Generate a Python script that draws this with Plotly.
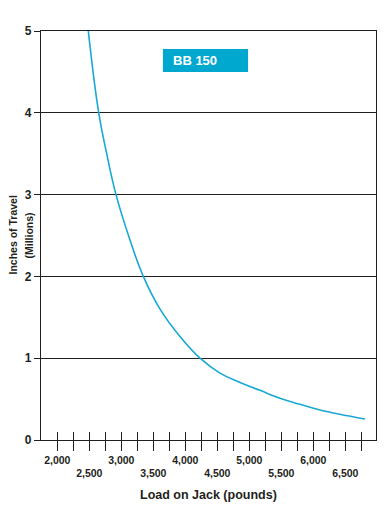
import plotly.graph_objects as go

# Data
loads = [2484, 2647, 2772, 2917, 3125, 3344, 3605, 3917, 4230, 4542, 4855, 5167, 5480, 5792, 6105, 6808]
travel = [5.0, 4.0, 3.5, 3.0, 2.47, 2.0, 1.6, 1.265, 1.0, 0.818, 0.703, 0.607, 0.51, 0.436, 0.367, 0.257]

minor_ticks = list(range(2000, 6751, 250))
label_rows = {v: (f"{v:,}" if v % 1000 == 0 else f"<br>{v:,}") for v in range(2000, 6501, 500)}
tick_text = [label_rows.get(v, "") for v in minor_ticks]
y_ticks = [0, 1, 2, 3, 4, 5]

FONT = "Liberation Sans, Arial, sans-serif"
INK = "#231f20"
CYAN_LINE = "#19a8d4"
CYAN_BOX = "#00a7cf"
X_RANGE = [1745, 6980]

fig = go.Figure()
fig.add_trace(go.Scatter(
    x=loads, y=travel, mode="lines",
    line=dict(color=CYAN_LINE, width=1.6, shape="spline", smoothing=1.2),
    showlegend=False, hoverinfo="skip",
))
fig.add_trace(go.Scatter(x=[None], y=[None], xaxis="x2", showlegend=False, hoverinfo="skip"))

fig.update_layout(
    width=392, height=513,
    margin=dict(l=41, r=16, t=31, b=73),
    paper_bgcolor="white", plot_bgcolor="white",
    font=dict(family=FONT, color=INK),
    xaxis=dict(
        range=X_RANGE, tickmode="array", tickvals=minor_ticks, ticktext=tick_text,
        tickangle=0, automargin=False,
        ticks="outside", ticklen=10, tickwidth=1.2, tickcolor=INK,
        showgrid=False, zeroline=False,
        showline=True, linecolor=INK, linewidth=1.3, mirror=True,
        tickfont=dict(family=FONT, size=10.5, weight="bold", color=INK),
    ),
    xaxis2=dict(
        range=X_RANGE, overlaying="x", anchor="y", side="bottom",
        tickmode="array", tickvals=minor_ticks, showticklabels=False,
        ticks="inside", ticklen=8, tickwidth=1.2, tickcolor=INK,
        showgrid=False, zeroline=False, showline=False, automargin=False,
    ),
    yaxis=dict(
        range=[0, 5], tickmode="array", tickvals=y_ticks, automargin=False,
        ticks="outside", ticklen=6, tickwidth=1.2, tickcolor=INK,
        showgrid=True, gridcolor=INK, gridwidth=1.2, zeroline=False,
        showline=True, linecolor=INK, linewidth=1.3, mirror=True,
        tickfont=dict(family=FONT, size=12, weight="bold", color=INK),
    ),
    shapes=[dict(
        type="rect", xref="paper", yref="paper",
        x0=0.364, x1=0.618, y0=0.900, y1=0.956,
        fillcolor=CYAN_BOX, line=dict(width=0), layer="above",
    )],
    annotations=[
        dict(text="BB 150", xref="paper", yref="paper", x=0.388, y=0.928,
             xanchor="left", yanchor="middle", showarrow=False,
             font=dict(family=FONT, size=13, weight="bold", color="white")),
        dict(text="Inches of Travel", xref="paper", yref="paper",
             x=0, y=0.5, xshift=-29, xanchor="center", yanchor="middle",
             textangle=-90, showarrow=False,
             font=dict(family=FONT, size=10.5, weight="bold", color=INK)),
        dict(text="(Millions)", xref="paper", yref="paper",
             x=0, y=0.5, xshift=-13, xanchor="center", yanchor="middle",
             textangle=-90, showarrow=False,
             font=dict(family=FONT, size=10.5, weight="bold", color=INK)),
        dict(text="Load on Jack (pounds)", xref="paper", yref="paper",
             x=0.5, y=0, yshift=-55, xanchor="center", yanchor="middle",
             showarrow=False,
             font=dict(family=FONT, size=12.5, weight="bold", color=INK)),
    ],
)

fig.write_html("out.html", config={"displayModeBar": False},
               post_script="document.body.style.margin='0';")
